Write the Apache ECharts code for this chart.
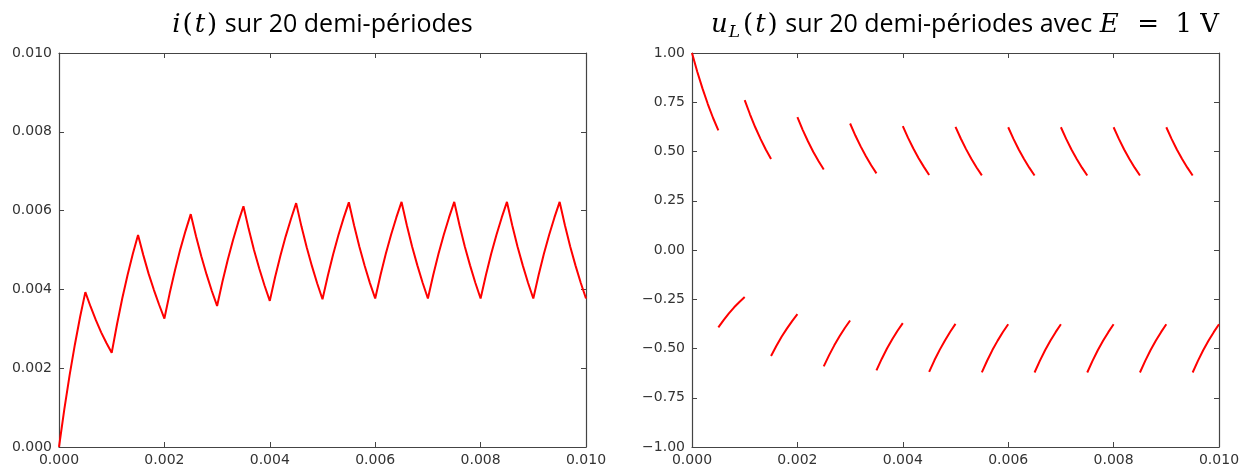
<!DOCTYPE html>
<html>
<head>
<meta charset="utf-8">
<script src="https://cdn.jsdelivr.net/npm/echarts@6/dist/echarts.min.js"></script>
<style>
  html, body { margin: 0; padding: 0; background: #fff; }
  #main { width: 1247px; height: 468px; }
</style>
</head>
<body>
<div id="main"></div>
<script>
// time grid: 20 half-periods of 0.5 ms, sampled every 0.1 ms
var halfPeriod = 0.0005;
var tStep = 0.0001;

// i(t), one value per 0.1 ms
var iValues = [
  0, 0.00095, 0.00181, 0.00259, 0.00330, 0.00393,
  0.00356, 0.00322, 0.00291, 0.00264, 0.00239,
  0.00311, 0.00377, 0.00436, 0.00490, 0.00538,
  0.00487, 0.00440, 0.00399, 0.00361, 0.00326,
  0.00390, 0.00448, 0.00501, 0.00548, 0.00591,
  0.00535, 0.00484, 0.00438, 0.00396, 0.00358,
  0.00419, 0.00474, 0.00524, 0.00570, 0.00611,
  0.00553, 0.00500, 0.00453, 0.00410, 0.00371,
  0.00431, 0.00485, 0.00534, 0.00578, 0.00619,
  0.00560, 0.00507, 0.00459, 0.00415, 0.00375,
  0.00434, 0.00488, 0.00537, 0.00581, 0.00621,
  0.00562, 0.00508, 0.00460, 0.00416, 0.00377,
  0.00436, 0.00490, 0.00538, 0.00582, 0.00622,
  0.00563, 0.00509, 0.00461, 0.00417, 0.00377,
  0.00436, 0.00490, 0.00538, 0.00582, 0.00622,
  0.00563, 0.00509, 0.00461, 0.00417, 0.00377,
  0.00436, 0.00490, 0.00538, 0.00582, 0.00622,
  0.00563, 0.00509, 0.00461, 0.00417, 0.00377,
  0.00436, 0.00490, 0.00538, 0.00582, 0.00622,
  0.00563, 0.00509, 0.00461, 0.00417, 0.00377
];

// u_L(t), one segment per half-period
var uSegments = [
  [1.000, 0.905, 0.819, 0.741, 0.670, 0.607],
  [-0.393, -0.356, -0.322, -0.291, -0.264, -0.239],
  [0.761, 0.689, 0.623, 0.564, 0.510, 0.462],
  [-0.538, -0.487, -0.440, -0.399, -0.361, -0.326],
  [0.674, 0.610, 0.552, 0.499, 0.452, 0.409],
  [-0.591, -0.535, -0.484, -0.438, -0.396, -0.358],
  [0.642, 0.581, 0.526, 0.476, 0.430, 0.389],
  [-0.611, -0.553, -0.500, -0.453, -0.410, -0.371],
  [0.629, 0.569, 0.515, 0.466, 0.422, 0.381],
  [-0.619, -0.560, -0.507, -0.459, -0.415, -0.375],
  [0.625, 0.566, 0.512, 0.463, 0.419, 0.379],
  [-0.621, -0.562, -0.508, -0.460, -0.416, -0.377],
  [0.623, 0.564, 0.510, 0.462, 0.418, 0.378],
  [-0.622, -0.563, -0.509, -0.461, -0.417, -0.377],
  [0.623, 0.564, 0.510, 0.462, 0.418, 0.378],
  [-0.622, -0.563, -0.509, -0.461, -0.417, -0.377],
  [0.623, 0.564, 0.510, 0.462, 0.418, 0.378],
  [-0.622, -0.563, -0.509, -0.461, -0.417, -0.377],
  [0.623, 0.564, 0.510, 0.462, 0.418, 0.378],
  [-0.622, -0.563, -0.509, -0.461, -0.417, -0.377]
];

var chartDom = document.getElementById("main");
var myChart = echarts.init(chartDom);

var axisColor = "#444";
var labelStyle = {
  fontFamily: "DejaVu Sans",
  fontSize: 14,
  color: "#333",
};

function fmt(digits) {
  return function (v) {
    return v.toFixed(digits).replace("-", "\u2212");
  };
}

function xAxisFor(grid, position, showLabel) {
  return {
    type: "value",
    gridIndex: grid,
    position: position,
    min: 0,
    max: 0.01,
    interval: 0.002,
    splitLine: { show: false },
    axisLine: { show: true, onZero: false, lineStyle: { color: axisColor, width: 1.2 } },
    axisTick: { show: true, inside: true, length: 5, lineStyle: { color: axisColor } },
    axisLabel: Object.assign({ show: showLabel, margin: 6, formatter: fmt(3), showMinLabel: true, showMaxLabel: true }, labelStyle),
  };
}

function yAxisFor(grid, position, showLabel, min, max, interval, digits) {
  return {
    type: "value",
    gridIndex: grid,
    position: position,
    min: min,
    max: max,
    interval: interval,
    splitLine: { show: false },
    axisLine: { show: true, onZero: false, lineStyle: { color: axisColor, width: 1.2 } },
    axisTick: { show: true, inside: true, length: 5, lineStyle: { color: axisColor } },
    axisLabel: Object.assign({ show: showLabel, margin: 7, formatter: fmt(digits), showMinLabel: true, showMaxLabel: true }, labelStyle),
  };
}

var titleRich = {
  m: { fontFamily: "DejaVu Serif", fontStyle: "italic", fontWeight: "normal", fontSize: 26, color: "#000", lineHeight: 32, padding: [0, 1, 0, 1] },
  p: { fontFamily: "DejaVu Serif", fontWeight: "normal", fontSize: 26, color: "#000", lineHeight: 32, padding: [0, 1, 0, 1] },
  sub: { fontFamily: "DejaVu Serif", fontStyle: "italic", fontWeight: "normal", fontSize: 17, color: "#000", lineHeight: 32, verticalAlign: "bottom", padding: [0, 2, 0, 0] },
  s: { fontFamily: "Open Sans", fontWeight: "normal", fontSize: 25, color: "#000", lineHeight: 32 },
};

var iData = iValues.map(function (v, n) {
  return [n * tStep, v];
});

var series = [
  {
    type: "line",
    xAxisIndex: 0,
    yAxisIndex: 0,
    data: iData,
    showSymbol: false,
    lineStyle: { color: "#ff0000", width: 2 },
    silent: true,
    animation: false,
  },
];

uSegments.forEach(function (seg, k) {
  series.push({
    type: "line",
    xAxisIndex: 2,
    yAxisIndex: 2,
    data: seg.map(function (v, j) {
      return [k * halfPeriod + j * tStep, v];
    }),
    showSymbol: false,
    lineStyle: { color: "#ff0000", width: 2 },
    silent: true,
    animation: false,
  });
});

var option = {
  backgroundColor: "#fff",
  animation: false,
  title: [
    {
      text: "{m|i}{p|(}{m|t}{p|)}{s| sur 20 demi-périodes}",
      left: 317,
      top: 4,
      textAlign: "center",
      textStyle: { fontWeight: "normal", rich: titleRich },
    },
    {
      text: "{m|u}{sub|L}{p|(}{m|t}{p|)}{s| sur 20 demi-périodes avec }{m|E}{p|  =  1 V}",
      left: 960,
      top: 4,
      textAlign: "center",
      textStyle: { fontWeight: "normal", rich: titleRich },
    },
  ],
  grid: [
    { left: 59, top: 53, width: 527, height: 394 },
    { left: 692, top: 53, width: 527, height: 394 },
  ],
  xAxis: [
    xAxisFor(0, "bottom", true),
    xAxisFor(0, "top", false),
    xAxisFor(1, "bottom", true),
    xAxisFor(1, "top", false),
  ],
  yAxis: [
    yAxisFor(0, "left", true, 0, 0.01, 0.002, 3),
    yAxisFor(0, "right", false, 0, 0.01, 0.002, 3),
    yAxisFor(1, "left", true, -1, 1, 0.25, 2),
    yAxisFor(1, "right", false, -1, 1, 0.25, 2),
  ],
  series: series,
};

option && myChart.setOption(option);
</script>
</body>
</html>
